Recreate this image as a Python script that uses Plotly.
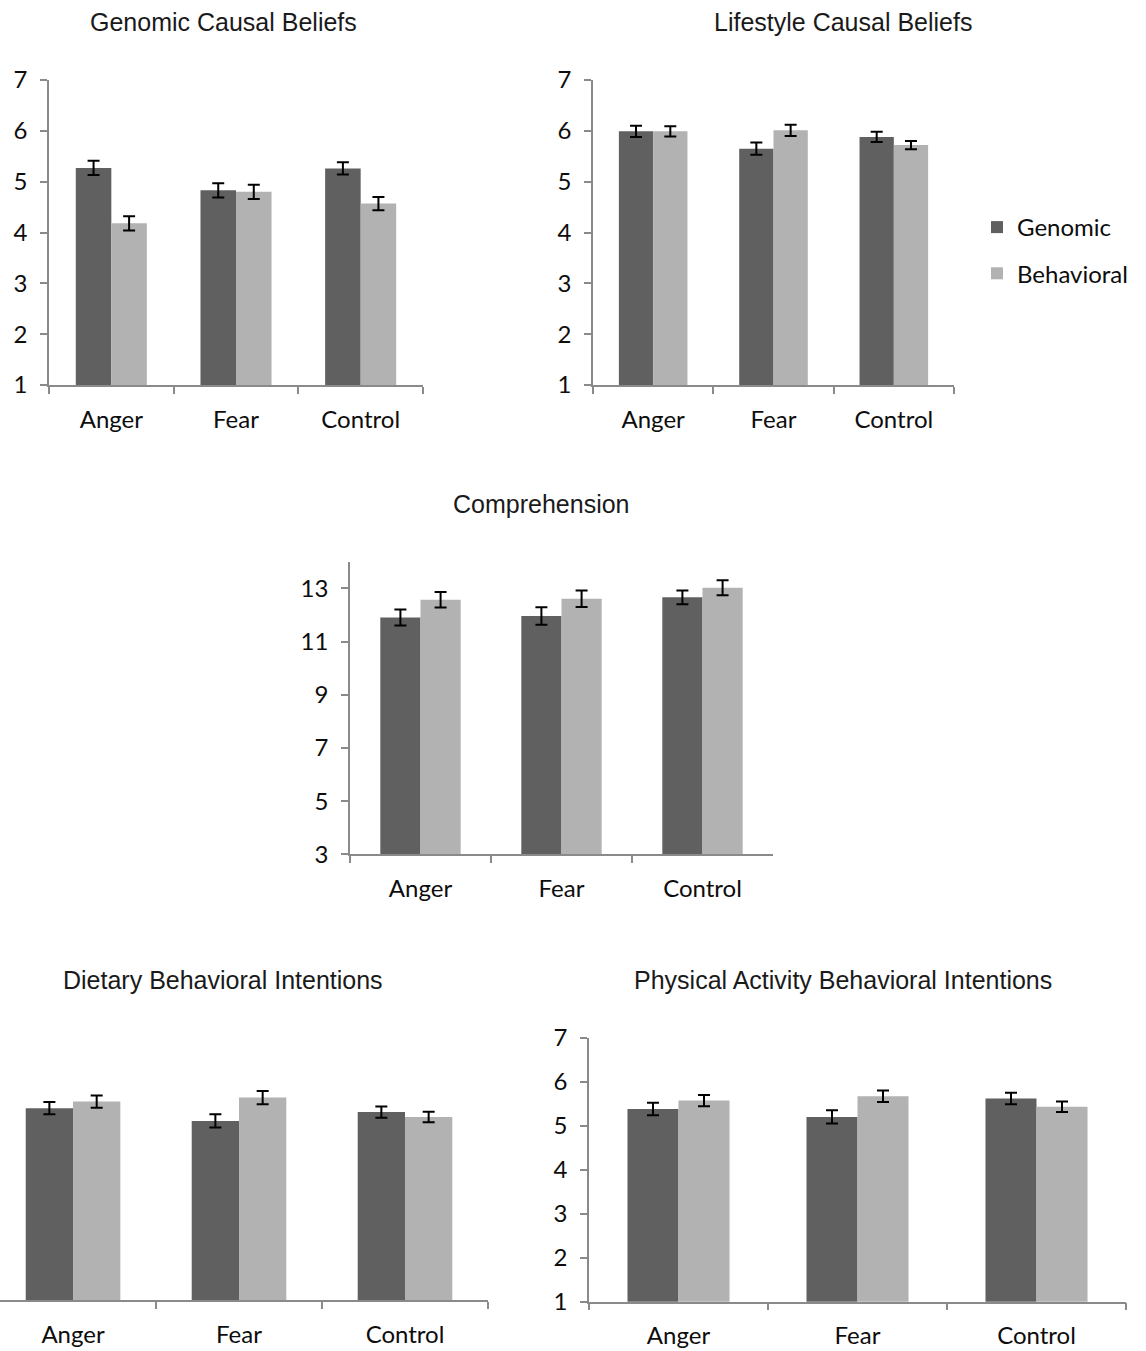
import plotly.graph_objects as go

W, H = 1146, 1351

categories = ["Anger", "Fear", "Control"]
series_names = ["Genomic", "Behavioral"]
colors = ["#606060", "#b2b2b2"]

# Genomic Causal Beliefs
gcb_genomic = [5.27, 4.83, 5.26]
gcb_genomic_err = [0.14, 0.14, 0.12]
gcb_behavioral = [4.18, 4.80, 4.57]
gcb_behavioral_err = [0.14, 0.14, 0.13]

# Lifestyle Causal Beliefs
lcb_genomic = [5.99, 5.65, 5.88]
lcb_genomic_err = [0.11, 0.12, 0.10]
lcb_behavioral = [5.99, 6.01, 5.72]
lcb_behavioral_err = [0.10, 0.11, 0.08]

# Comprehension
comp_genomic = [11.90, 11.96, 12.66]
comp_genomic_err = [0.30, 0.33, 0.26]
comp_behavioral = [12.57, 12.61, 13.02]
comp_behavioral_err = [0.29, 0.31, 0.28]

# Dietary Behavioral Intentions
diet_genomic = [5.36, 5.07, 5.27]
diet_genomic_err = [0.14, 0.15, 0.13]
diet_behavioral = [5.51, 5.60, 5.16]
diet_behavioral_err = [0.14, 0.15, 0.12]

# Physical Activity Behavioral Intentions
pa_genomic = [5.38, 5.20, 5.62]
pa_genomic_err = [0.14, 0.15, 0.13]
pa_behavioral = [5.57, 5.67, 5.43]
pa_behavioral_err = [0.13, 0.13, 0.12]

titles = [
    "Genomic Causal Beliefs",
    "Lifestyle Causal Beliefs",
    "Comprehension",
    "Dietary Behavioral Intentions",
    "Physical Activity Behavioral Intentions",
]

panels = [
    (gcb_genomic, gcb_genomic_err, gcb_behavioral, gcb_behavioral_err),
    (lcb_genomic, lcb_genomic_err, lcb_behavioral, lcb_behavioral_err),
    (comp_genomic, comp_genomic_err, comp_behavioral, comp_behavioral_err),
    (diet_genomic, diet_genomic_err, diet_behavioral, diet_behavioral_err),
    (pa_genomic, pa_genomic_err, pa_behavioral, pa_behavioral_err),
]

# pixel layout: (x0, x1, ytop, ybottom, yrange, dtick, show_y, xrange)
geom = [
    (49, 423, 80, 385, [1, 7], 1, True, [-0.5, 2.5]),
    (593, 954, 80, 385, [1, 7], 1, True, [-0.5, 2.5]),
    (350, 773, 561.7, 854.3, [3, 14], 2, True, [-0.5, 2.5]),
    (0, 488, 1036, 1300, [1, 7], 1, False, [-0.44, 2.5]),
    (589, 1126, 1037.7, 1301.7, [1, 7], 1, True, [-0.5, 2.5]),
]
title_pos = [(223, 22), (843, 22), (541, 504), (223, 980), (843, 980)]

tick_font = dict(family="Lato, Carlito, Calibri, sans-serif", size=24, color="#0d0d0d")
axis_color = "#8a8a8a"

fig = go.Figure()
layout = {}
for i, (vals, geo) in enumerate(zip(panels, geom)):
    g, ge, b, be = vals
    x0, x1, yt, yb, yr, dt, show_y, xr = geo
    n = "" if i == 0 else str(i + 1)
    xa, ya = "x" + n, "y" + n
    for s, (v, e) in enumerate([(g, ge), (b, be)]):
        fig.add_trace(go.Bar(
            x=categories, y=v, name=series_names[s],
            marker=dict(color=colors[s], line=dict(width=0)),
            error_y=dict(type="data", array=e, color="black", thickness=2, width=6),
            xaxis=xa, yaxis=ya, legendgroup=series_names[s],
            showlegend=(i == 0),
        ))
    layout["xaxis" + n] = dict(
        domain=[x0 / W, x1 / W], anchor=ya, range=xr, automargin=False,
        showline=True, linecolor=axis_color, linewidth=1.5,
        ticks="outside", tickson="boundaries", ticklen=7, tickcolor=axis_color, tickwidth=1.5,
        tickfont=tick_font, showgrid=False, zeroline=False, fixedrange=True,
        ticklabelstandoff=12,
    )
    layout["yaxis" + n] = dict(
        domain=[1 - yb / H, 1 - yt / H], anchor=xa, range=yr, automargin=False,
        tickmode="linear", tick0=yr[0], dtick=dt,
        showline=show_y, linecolor=axis_color, linewidth=1.5,
        ticks="outside" if show_y else "", ticklen=7, tickcolor=axis_color, tickwidth=1.5,
        showticklabels=show_y, tickfont=tick_font,
        showgrid=False, zeroline=False, fixedrange=True,
        ticklabelstandoff=8,
    )

annotations = []
for t, (tx, ty) in zip(titles, title_pos):
    annotations.append(dict(
        text=t, x=tx / W, y=1 - ty / H, xref="paper", yref="paper",
        xanchor="center", yanchor="middle", showarrow=False,
        font=dict(family="Liberation Sans, Arial, sans-serif", size=25, color="#1a1a1a"),
    ))

fig.update_layout(
    width=W, height=H, autosize=False,
    margin=dict(l=0, r=0, t=0, b=0, pad=0, autoexpand=False),
    paper_bgcolor="white", plot_bgcolor="white",
    barmode="group", bargap=0.43, bargroupgap=0,
    annotations=annotations,
    showlegend=True,
    legend=dict(
        x=977 / W, y=1 - 205 / H, xanchor="left", yanchor="top",
        font=dict(family="Lato, Carlito, Calibri, sans-serif", size=24, color="#0d0d0d"),
        tracegroupgap=12, bgcolor="rgba(0,0,0,0)", itemwidth=30,
    ),
    **layout,
)

fig.write_html(
    "out.html",
    config={"displayModeBar": False},
    post_script="document.body.style.margin='0';document.body.style.overflow='hidden';",
)
